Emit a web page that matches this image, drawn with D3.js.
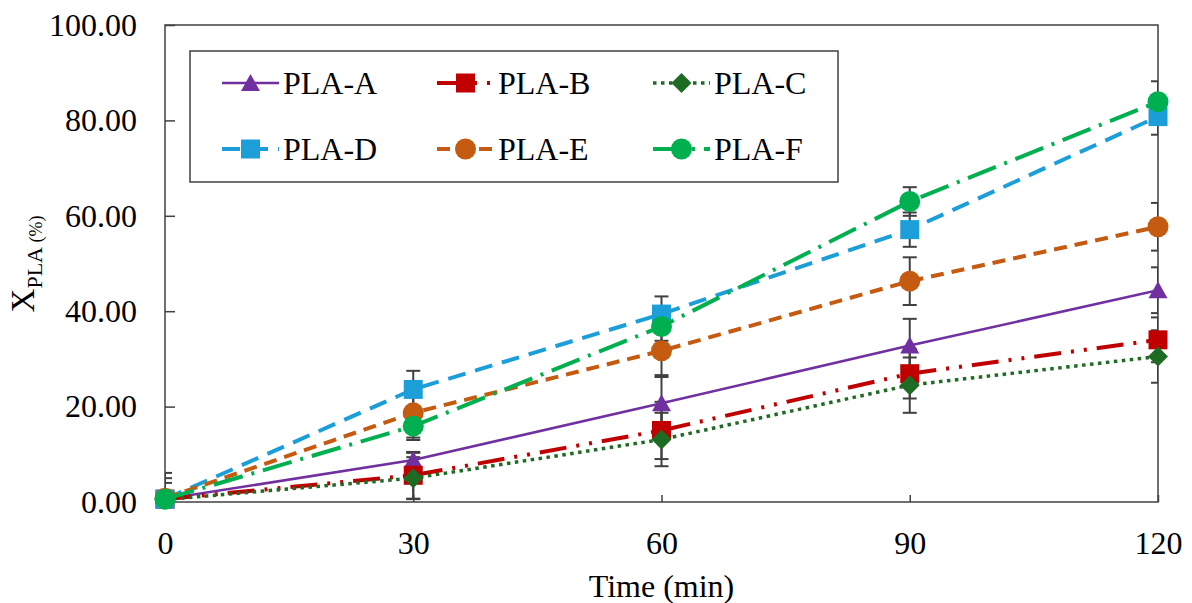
<!DOCTYPE html>
<html>
<head>
<meta charset="utf-8">
<script src="https://cdn.jsdelivr.net/npm/d3@7"></script>
<style>
  body { margin: 0; background: #fff; }
  svg { display: block; }
  text { font-family: "Liberation Serif", "Times New Roman", serif; fill: #000; }
</style>
</head>
<body>
<svg id="chart" width="1192" height="603"></svg>
<script>
// Conversion of PLA over time, six samples, mean ± error
const times = [0, 30, 60, 90, 120];
const seriesNames = ["PLA-A", "PLA-B", "PLA-C", "PLA-D", "PLA-E", "PLA-F"];
const valuesA = [0.6, 8.8, 20.7, 32.8, 44.4];
const valuesB = [0.6, 5.6, 15.0, 26.9, 34.0];
const valuesC = [0.5, 5.0, 13.1, 24.5, 30.5];
const valuesD = [0.6, 23.6, 39.4, 57.1, 80.8];
const valuesE = [0.8, 18.7, 31.7, 46.3, 57.7];
const valuesF = [0.6, 15.9, 36.8, 63.0, 83.9];
const errA = [3.4, 1.5, 5.9, 5.6, 4.8];
const errB = [4.4, 4.9, 6.0, 5.2, 4.7];
const errC = [5.6, 4.4, 5.6, 5.8, 5.5];
const errD = [0.5, 3.9, 3.7, 3.6, 3.8];
const errE = [0.5, 5.2, 5.5, 5.0, 5.0];
const errF = [0.5, 2.9, 3.0, 3.0, 4.3];
const xTicks = [0, 30, 60, 90, 120];
const yTicks = [0, 20, 40, 60, 80, 100];

const allValues = [valuesA, valuesB, valuesC, valuesD, valuesE, valuesF];
const allErrors = [errA, errB, errC, errD, errE, errF];

// Per-series appearance
const styles = [
  { color: "#7030A0", width: 2.5, dash: null,                 marker: "triangle" },
  { color: "#C00000", width: 4,   dash: "27,10,3,10,3,10",    marker: "square" },
  { color: "#1E6B24", width: 3.5, dash: "3.5,4.5",            marker: "diamond" },
  { color: "#1C9FD9", width: 4,   dash: "18,10",              marker: "square" },
  { color: "#C55A11", width: 4,   dash: "13,8",               marker: "circle" },
  { color: "#00B050", width: 4,   dash: "30,9,3,9",           marker: "circle" }
];

const svg = d3.select("#chart");
const margin = { left: 165, right: 34, top: 25, bottom: 101 };
const W = 1192, H = 603;
const plotW = W - margin.left - margin.right;
const plotH = H - margin.top - margin.bottom;

const x = d3.scaleLinear().domain([0, 120]).range([margin.left, margin.left + plotW]);
const y = d3.scaleLinear().domain([0, 100]).range([margin.top + plotH, margin.top]);

const axisColor = "#404040";

// Clip region for error bars and lines (markers stay unclipped)
svg.append("defs").append("clipPath").attr("id", "plot-clip")
  .append("rect")
  .attr("x", margin.left).attr("y", margin.top)
  .attr("width", plotW).attr("height", plotH);

// Axes with inward ticks
const yAxis = svg.append("g")
  .attr("transform", `translate(${margin.left},0)`)
  .call(d3.axisLeft(y).tickValues(yTicks).tickFormat(d3.format(".2f"))
    .tickSize(-10).tickSizeOuter(0).tickPadding(28));
const xAxis = svg.append("g")
  .attr("transform", `translate(0,${margin.top + plotH})`)
  .call(d3.axisBottom(x).tickValues(xTicks).tickFormat(d3.format("d"))
    .tickSize(-7).tickSizeOuter(0).tickPadding(29));
[yAxis, xAxis].forEach(g => {
  g.selectAll("path.domain").remove();
  g.selectAll(".tick line").attr("stroke", axisColor).attr("stroke-width", 1.5);
  g.selectAll(".tick text").style("font-size", "32px").attr("fill", "#000");
});

// Axis titles
svg.append("text")
  .attr("x", x(60)).attr("y", 597)
  .attr("text-anchor", "middle")
  .style("font-size", "32px")
  .text("Time (min)");

const yTitle = svg.append("text")
  .attr("transform", "translate(34,264) rotate(-90)")
  .attr("text-anchor", "middle");
yTitle.append("tspan").style("font-size", "33px").text("X");
yTitle.append("tspan").attr("dy", 8).style("font-size", "22px").text("PLA");
yTitle.append("tspan").style("font-size", "18px").text(" (%)");

// Marker shapes
function markerPath(type) {
  switch (type) {
    case "triangle": return "M0,-9L9.5,8L-9.5,8Z";
    case "square":   return "M-9.5,-9.5H9.5V9.5H-9.5Z";
    case "diamond":  return "M0,-10L10,0L0,10L-10,0Z";
    case "circle":   return d3.symbol(d3.symbolCircle, Math.PI * 10.5 * 10.5)();
  }
}

// Error bars underneath everything else
const errG = svg.append("g").attr("clip-path", "url(#plot-clip)");
allValues.forEach((vals, si) => {
  vals.forEach((v, i) => {
    const e = allErrors[si][i];
    const cx = x(times[i]);
    errG.append("line").attr("x1", cx).attr("x2", cx)
      .attr("y1", y(v + e)).attr("y2", y(v - e))
      .attr("stroke", axisColor).attr("stroke-width", 2);
    [y(v + e), y(v - e)].forEach(cy => {
      errG.append("line").attr("x1", cx - 7).attr("x2", cx + 7).attr("y1", cy).attr("y2", cy)
        .attr("stroke", axisColor).attr("stroke-width", 2);
    });
  });
});

// Plot-area frame
svg.append("rect")
  .attr("x", margin.left).attr("y", margin.top)
  .attr("width", plotW).attr("height", plotH)
  .attr("fill", "none").attr("stroke", axisColor).attr("stroke-width", 1.5);

// Series lines and markers
const line = d3.line().x((d, i) => x(times[i])).y(d => y(d));
allValues.forEach((vals, si) => {
  const st = styles[si];
  const g = svg.append("g");
  g.append("path").datum(vals)
    .attr("d", line)
    .attr("clip-path", "url(#plot-clip)")
    .attr("fill", "none")
    .attr("stroke", st.color)
    .attr("stroke-width", st.width)
    .attr("stroke-dasharray", st.dash);
  g.selectAll("path.mk").data(vals).join("path")
    .attr("class", "mk")
    .attr("d", markerPath(st.marker))
    .attr("transform", (d, i) => `translate(${x(times[i])},${y(d)})`)
    .attr("fill", st.color);
});

// Legend
const legend = svg.append("g");
legend.append("rect")
  .attr("x", 190).attr("y", 51).attr("width", 648).attr("height", 131)
  .attr("fill", "#fff").attr("stroke", axisColor).attr("stroke-width", 1.5);
const colX = [222, 437, 653];
const rowY = [83, 149];
seriesNames.forEach((name, si) => {
  const st = styles[si];
  const lx = colX[si % 3], ly = rowY[Math.floor(si / 3)];
  const item = legend.append("g");
  item.append("line")
    .attr("x1", lx).attr("x2", lx + 57).attr("y1", ly).attr("y2", ly)
    .attr("stroke", st.color).attr("stroke-width", st.width)
    .attr("stroke-dasharray", st.dash);
  item.append("path")
    .attr("d", markerPath(st.marker))
    .attr("transform", `translate(${lx + 28.5},${ly})`)
    .attr("fill", st.color);
  item.append("text")
    .attr("x", lx + 61).attr("y", ly)
    .attr("dy", "0.34em")
    .style("font-size", "32px")
    .text(name);
});
</script>
</body>
</html>
